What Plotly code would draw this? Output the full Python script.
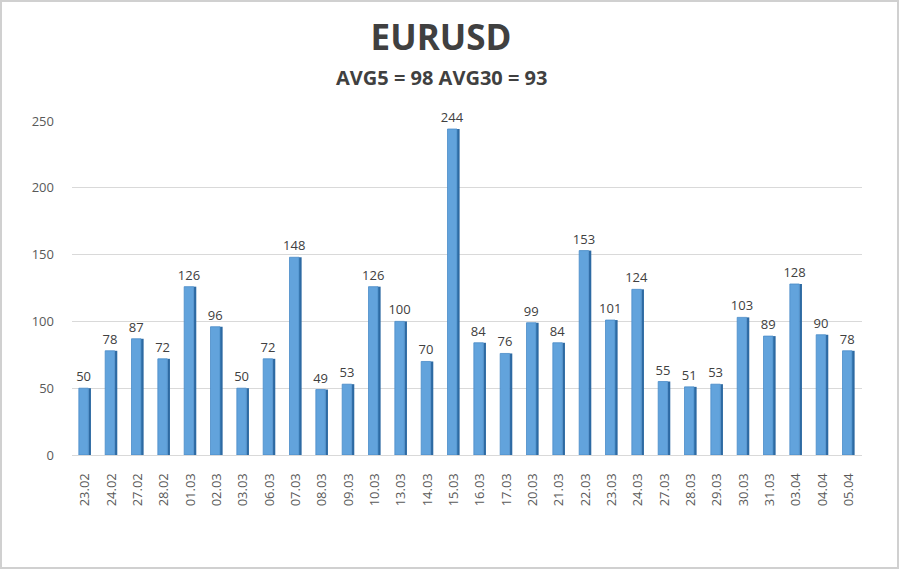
import plotly.graph_objects as go

dates = ["23.02", "24.02", "27.02", "28.02", "01.03", "02.03", "03.03", "06.03", "07.03", "08.03",
         "09.03", "10.03", "13.03", "14.03", "15.03", "16.03", "17.03", "20.03", "21.03", "22.03",
         "23.03", "24.03", "27.03", "28.03", "29.03", "30.03", "31.03", "03.04", "04.04", "05.04"]
values = [50, 78, 87, 72, 126, 96, 50, 72, 148, 49,
          53, 126, 100, 70, 244, 84, 76, 99, 84, 153,
          101, 124, 55, 51, 53, 103, 89, 128, 90, 78]
y_ticks = [0, 50, 100, 150, 200, 250]

fig = go.Figure()
# darker side face (3D look)
fig.add_trace(go.Bar(
    x=dates, y=values, width=0.1, offset=0.12,
    marker=dict(color="#2d6aa3", line=dict(width=0)),
    hoverinfo="skip",
))
# front face
fig.add_trace(go.Bar(
    x=dates, y=values,
    width=0.36, offset=-0.24,
    marker=dict(color="#62a3dc", line=dict(color="#4a8cc8", width=0.8)),
    text=[str(v) for v in values], textposition="outside",
    textfont=dict(family="Open Sans", size=13, color="#404040"),
    cliponaxis=False,
))

fig.update_layout(
    width=900, height=570,
    paper_bgcolor="white", plot_bgcolor="white",
    margin=dict(l=72, r=38, t=121, b=115),
    showlegend=False,
    barmode="overlay",
    uniformtext=dict(minsize=13, mode="show"),
    title=dict(text="<b>EURUSD</b>", x=441 / 900, xanchor="center", y=1 - 38 / 570, yanchor="middle",
               font=dict(family="Open Sans", size=35, color="#404040")),
    annotations=[dict(text="<b>AVG5 = 98 AVG30 = 93</b>", xref="paper", yref="paper",
                      x=(441 - 72) / 790, y=1.0, yshift=121 - 77, showarrow=False,
                      xanchor="center", yanchor="middle",
                      font=dict(family="Open Sans", size=20, color="#404040"))],
    xaxis=dict(tickangle=-90, tickfont=dict(family="Open Sans", size=13, color="#595959"),
               showgrid=False, showline=True, linecolor="#d9d9d9", ticks="", ticklen=0,
               ticklabelstandoff=12),
    yaxis=dict(range=[0, 250], tickvals=y_ticks, tickfont=dict(family="Open Sans", size=13, color="#595959"),
               showgrid=True, gridcolor="#d9d9d9", zeroline=False, ticks="", ticklabelstandoff=17),
    shapes=[dict(type="rect", xref="paper", yref="paper",
                 x0=-71/790, x1=826/790, y0=-113/334, y1=1 + 120/334,
                 line=dict(color="#d0d0d0", width=2))],
)
fig.write_html("out.html", config={"displayModeBar": False},
               post_script="document.body.style.margin='0';")
